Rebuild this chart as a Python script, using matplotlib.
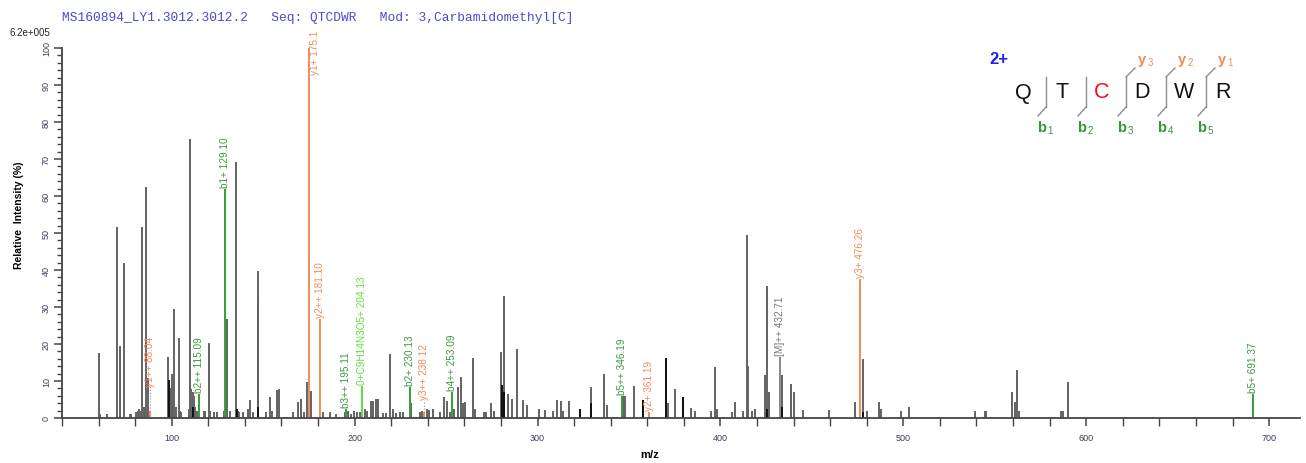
import matplotlib.pyplot as plt
from matplotlib.lines import Line2D
from matplotlib.ticker import MultipleLocator

plt.rcParams['font.family'] = ['Liberation Sans', 'DejaVu Sans']

# unassigned peaks (m/z, relative intensity %)
peak_mz = [60.0, 61.0, 64.4, 69.8, 71.8, 74.0, 77.0, 77.6, 80.5, 81.5, 82.3, 83.0,
           83.9, 84.6, 85.2, 86.1, 87.0, 98.1, 99.4, 100.0, 100.5, 101.4, 102.3,
           103.7, 104.5, 105.3, 109.5, 110.1, 110.8, 111.4, 112.0, 112.6, 114.0,
           117.5, 118.2, 120.3, 120.9, 123.2, 125.0, 128.5, 130.0, 132.0, 135.1,
           136.2, 137.0, 139.0, 141.5, 142.7, 144.5, 146.9, 147.4, 151.5, 153.8,
           155.0, 157.3, 158.4, 166.1, 169.2, 170.6, 172.3, 173.9, 176.1, 182.5,
           186.5, 189.8, 194.6, 196.5, 197.8, 199.8, 201.5, 203.2, 205.5, 206.5,
           208.9, 210.2, 211.6, 212.9, 215.4, 217.2, 219.5, 220.8, 222.7, 224.9,
           226.7, 231.0, 235.8, 236.9, 239.7, 240.8, 242.6, 246.6, 248.9, 250.3,
           252.0, 254.5, 256.6, 258.1, 259.5, 260.3, 264.5, 265.8, 270.5, 271.8,
           274.8, 276.0, 280.0, 281.8, 284.0, 285.9, 288.7, 291.8, 294.0, 300.6,
           304.0, 308.2, 310.4, 312.8, 314.0, 317.0, 323.0, 329.2, 336.6, 337.8,
           346.6, 347.3, 347.9, 352.9, 357.8, 370.5, 371.5, 375.3, 379.3, 383.9,
           386.1, 394.8, 397.0, 398.4, 406.6, 407.9, 412.1, 414.3, 415.3, 417.0,
           419.0, 424.3, 425.2, 426.3, 433.6, 438.6, 440.4, 445.3, 459.1, 473.5,
           477.9, 480.1, 486.5, 487.8, 498.7, 502.9, 539.1, 544.6, 545.4, 559.7,
           560.8, 562.1, 563.0, 586.2, 587.2, 590.3]
peak_int = [17.5, 1.0, 1.0, 51.7, 19.5, 41.9, 1.2, 1.0, 1.5, 2.0, 2.5, 2.0,
            51.7, 3.0, 3.0, 62.3, 10.8, 16.6, 8.0, 12.0, 4.0, 29.5, 3.0,
            21.5, 2.0, 1.5, 2.5, 75.4, 7.8, 7.0, 6.0, 3.0, 2.0,
            2.0, 2.0, 20.2, 2.0, 1.5, 1.5, 2.0, 26.8, 2.0, 69.3,
            2.0, 1.5, 1.5, 2.5, 5.0, 1.5, 32.4, 39.8, 1.7, 5.8,
            2.0, 7.6, 7.8, 1.7, 4.2, 5.1, 1.5, 9.8, 7.2, 1.5,
            1.5, 1.2, 1.5, 1.8, 1.2, 2.0, 1.5, 1.5, 2.5, 2.0,
            4.5, 4.5, 5.2, 5.2, 1.3, 1.3, 17.3, 2.5, 1.3, 1.5,
            1.5, 4.0, 1.5, 1.8, 2.5, 2.2, 2.3, 1.5, 5.6, 4.5,
            1.5, 2.5, 8.5, 11.0, 4.0, 4.3, 16.1, 2.5, 1.5, 1.5,
            4.0, 2.0, 17.8, 33.0, 6.5, 5.2, 18.6, 4.8, 3.5, 2.5,
            2.2, 2.0, 5.0, 4.5, 2.0, 4.7, 2.5, 8.5, 11.9, 3.5,
            6.0, 6.0, 6.0, 8.7, 4.8, 16.2, 4.0, 7.8, 5.8, 2.7,
            2.0, 2.0, 13.7, 2.5, 1.5, 4.4, 2.0, 49.5, 14.0, 1.8,
            2.5, 11.6, 35.6, 7.0, 11.5, 9.2, 6.9, 2.2, 2.2, 4.4,
            16.0, 2.0, 4.4, 2.3, 1.8, 3.0, 1.8, 1.8, 1.8, 7.1,
            4.4, 13.1, 2.0, 2.0, 2.0, 9.6]

# overlapping (dark) peak segments
dark_mz = [98.3, 111.9, 135.5, 147.2, 280.5, 281.8, 323.0, 329.2, 357.8, 370.5, 379.3, 425.2, 433.6, 477.9]
dark_int = [10.4, 3.0, 2.5, 3.0, 9.0, 7.0, 2.5, 4.0, 4.8, 16.2, 5.8, 2.5, 3.0, 1.5]

# assigned ions
ion_mz = [88.04, 115.09, 129.10, 175.1, 181.10, 195.11, 204.13, 230.13, 238.12,
          253.09, 346.19, 361.19, 432.71, 476.26, 691.37]
ion_int = [2.0, 6.5, 61.9, 100.0, 26.8, 2.5, 8.7, 8.3, 1.5, 6.9, 6.0, 1.5, 16.4, 37.6, 6.5]
ion_label = ['y1++ 88.04', 'b2++ 115.09', 'b1+ 129.10', 'y1+ 175.1', 'y2++ 181.10',
             'b3++ 195.11', '0+C9H14N3O5+ 204.13', 'b2+ 230.13', 'y3++ 238.12',
             'b4++ 253.09', 'b5++ 346.19', 'y2+ 361.19', '[M]++ 432.71', 'y3+ 476.26',
             'b5+ 691.37']
ion_kind = ['y', 'b', 'b', 'y', 'y', 'b', 'n', 'b', 'y', 'b', 'b', 'y', 'm', 'y', 'b']

residues = ['Q', 'T', 'C', 'D', 'W', 'R']
b_seen = [1, 2, 3, 4, 5]
y_seen = [3, 2, 1]

kind_color = {'y': '#f28a5c', 'b': '#3a9a3a', 'n': '#5ee03a', 'm': '#8a8a8a'}
W, H = 1306, 464

fig = plt.figure(figsize=(W / 100, H / 100), dpi=100)
ax = fig.add_axes([62 / W, 45 / H, 1238 / W, 370 / H])

ax.vlines(peak_mz, 0, peak_int, color='#636363', lw=1.4)
ax.vlines(dark_mz, 0, dark_int, color='#111111', lw=1.4)
ax.vlines(ion_mz, 0, ion_int, colors=[kind_color[k] for k in ion_kind], lw=1.4)

# labels that sit above a taller neighbour
lifted = {88.04: 8.7, 238.12: 5.0}
for mz, h, lab, k in zip(ion_mz, ion_int, ion_label, ion_kind):
    c = kind_color[k]
    if k == 'm':
        c = '#777777'
    if h >= 99:
        ax.text(mz + 3.4, 105, lab, rotation=90, ha='center', va='top',
                fontsize=7.2, color=c, clip_on=False)
        continue
    base = max(h + 0.6, lifted.get(mz, 0))
    if base > h + 1:
        ax.vlines(mz, h, base, color='#999999', lw=0.8, linestyles=':')
    ax.text(mz, base, lab, rotation=90, ha='center', va='bottom', fontsize=7.2, color=c)

ax.set_xlim(40, 716.9)
ax.set_ylim(0, 100)
ax.set_xticks(range(100, 701, 100))
ax.xaxis.set_minor_locator(MultipleLocator(20))
ax.set_yticks(range(0, 101, 10))
ax.yaxis.set_minor_locator(MultipleLocator(2))
for s in ['top', 'right']:
    ax.spines[s].set_visible(False)
for s in ['left', 'bottom']:
    ax.spines[s].set_color('#444444')
    ax.spines[s].set_linewidth(1.3)
ax.tick_params(axis='both', which='major', length=6, width=1.1, color='#444444',
               labelsize=6.5, labelcolor='#3c3c5a')
ax.tick_params(axis='both', which='minor', length=3.5, width=1.0, color='#444444')
ax.tick_params(axis='x', which='minor', length=6)
ax.tick_params(axis='y', which='major', pad=2)
ax.tick_params(axis='x', which='major', pad=5)
for t in ax.get_yticklabels():
    t.set_rotation(90)
    t.set_va('center')

ax.set_xlabel('m/z', fontsize=8, fontweight='bold')
ax.xaxis.set_label_coords((650 - 62) / 1238, -0.085)
ax.set_ylabel('Relative  Intensity (%)', fontsize=7.5, fontweight='bold')
ax.yaxis.set_label_coords(-0.031, 0.55)

fig.text(10 / W, 1 - 33 / H, '6.2e+005', fontsize=7, va='center', ha='left', color='#222222')
fig.text(62 / W, 1 - 18 / H,
         'MS160894_LY1.3012.3012.2   Seq: QTCDWR   Mod: 3,Carbamidomethyl[C]',
         family='Liberation Mono', fontsize=9.3, color='#4a4ad0', va='center', ha='left')


def px(x, y):
    return x / W, 1 - y / H


# peptide fragmentation map
fig.text(*px(999, 60), '2+', fontsize=12, fontweight='bold', color='#1f1fee',
         ha='center', va='center')
letter_x = [1023, 1062.5, 1102, 1142, 1184, 1223]
for i, r in enumerate(residues):
    fig.text(*px(letter_x[i], 93), r, fontsize=15.5,
             color='#ee1111' if r == 'C' else '#111111', ha='center', va='center')
sep_x = [1046, 1086, 1126, 1166, 1206]
gray = '#8c8c8c'
for i, sx in enumerate(sep_x):
    fig.add_artist(Line2D([sx / W, sx / W], [1 - 78 / H, 1 - 108 / H],
                          transform=fig.transFigure, color=gray, lw=1))
    n = i + 1
    if n in b_seen:
        fig.add_artist(Line2D([sx / W, (sx - 8) / W], [1 - 108 / H, 1 - 117 / H],
                              transform=fig.transFigure, color=gray, lw=1))
        fig.text(*px(sx - 4, 128), 'b', fontsize=10.5, fontweight='bold',
                 color='#339933', ha='center', va='center')
        fig.text(*px(sx + 4, 131), str(n), fontsize=7, color='#339933',
                 ha='center', va='center')
    ny = len(residues) - n
    if ny in y_seen:
        fig.add_artist(Line2D([sx / W, (sx + 9) / W], [1 - 78 / H, 1 - 69 / H],
                              transform=fig.transFigure, color=gray, lw=1))
        fig.text(*px(sx + 16, 60), 'y', fontsize=10.5, fontweight='bold',
                 color='#f28a5c', ha='center', va='center')
        fig.text(*px(sx + 24, 63), str(ny), fontsize=7, color='#f28a5c',
                 ha='center', va='center')

fig.savefig('out.png', dpi=100)
